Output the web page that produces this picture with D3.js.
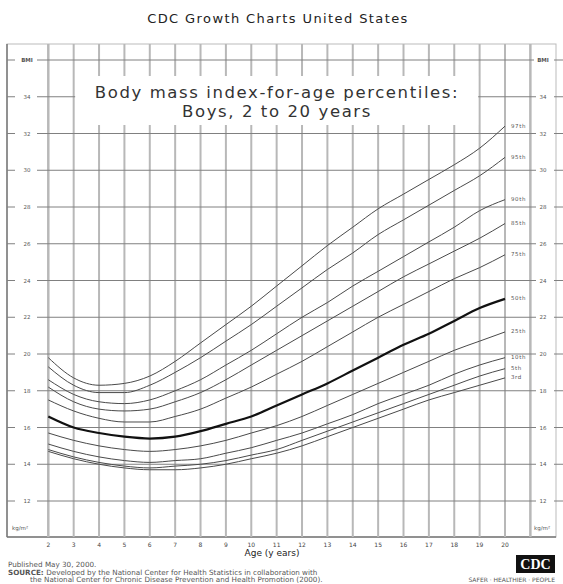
<!DOCTYPE html>
<html>
<head>
<meta charset="utf-8">
<script src="https://cdn.jsdelivr.net/npm/d3@7"></script>
<style>
  body { margin: 0; background: #fff; }
  svg { display: block; font-family: "DejaVu Sans", sans-serif; }
</style>
</head>
<body>
<div id="chart"></div>
<script>
// ages on the x axis (years)
const ages = [2, 3, 4, 5, 6, 7, 8, 9, 10, 11, 12, 13, 14, 15, 16, 17, 18, 19, 20];
const bmiTicks = [12, 14, 16, 18, 20, 22, 24, 26, 28, 30, 32, 34];

// BMI percentile curves, one value per age
const p3  = [14.7, 14.3, 14.0, 13.8, 13.7, 13.7, 13.8, 14.0, 14.3, 14.6, 15.0, 15.5, 16.0, 16.5, 17.0, 17.5, 17.9, 18.3, 18.7];
const p5  = [14.8, 14.4, 14.1, 13.9, 13.8, 13.9, 14.0, 14.2, 14.5, 14.8, 15.3, 15.8, 16.3, 16.8, 17.3, 17.8, 18.3, 18.8, 19.2];
const p10 = [15.1, 14.7, 14.4, 14.2, 14.1, 14.2, 14.3, 14.6, 14.9, 15.3, 15.7, 16.2, 16.7, 17.3, 17.8, 18.3, 18.9, 19.4, 19.8];
const p25 = [15.7, 15.3, 15.0, 14.8, 14.7, 14.8, 15.0, 15.3, 15.7, 16.1, 16.6, 17.2, 17.8, 18.4, 19.0, 19.6, 20.2, 20.7, 21.2];
const p50 = [16.6, 16.0, 15.7, 15.5, 15.4, 15.5, 15.8, 16.2, 16.6, 17.2, 17.8, 18.4, 19.1, 19.8, 20.5, 21.1, 21.8, 22.5, 23.0];
const p75 = [17.5, 16.9, 16.5, 16.3, 16.3, 16.6, 17.0, 17.6, 18.2, 18.9, 19.6, 20.4, 21.2, 22.0, 22.7, 23.4, 24.1, 24.7, 25.4];
const p85 = [18.2, 17.4, 17.0, 16.9, 17.0, 17.4, 17.9, 18.6, 19.4, 20.2, 21.0, 21.8, 22.6, 23.4, 24.2, 24.9, 25.6, 26.3, 27.1];
const p90 = [18.6, 17.8, 17.4, 17.3, 17.5, 18.0, 18.6, 19.4, 20.2, 21.1, 22.0, 22.8, 23.7, 24.5, 25.3, 26.1, 26.9, 27.8, 28.4];
const p95 = [19.3, 18.3, 17.9, 17.9, 18.3, 19.0, 19.8, 20.7, 21.6, 22.6, 23.6, 24.6, 25.5, 26.5, 27.3, 28.1, 28.9, 29.7, 30.7];
const p97 = [19.8, 18.7, 18.3, 18.4, 18.8, 19.6, 20.6, 21.6, 22.6, 23.7, 24.8, 25.9, 26.9, 27.9, 28.7, 29.5, 30.3, 31.2, 32.4];

const curves = [
  {name: '3rd', values: p3},
  {name: '5th', values: p5},
  {name: '10th', values: p10},
  {name: '25th', values: p25},
  {name: '50th', values: p50},
  {name: '75th', values: p75},
  {name: '85th', values: p85},
  {name: '90th', values: p90},
  {name: '95th', values: p95},
  {name: '97th', values: p97}
];

const W = 563, H = 584;
const frame = {left: 7, right: 556, top: 44, bottom: 537};

const svg = d3.select('#chart').append('svg')
  .attr('width', W)
  .attr('height', H);

const x = d3.scaleLinear().domain([2, 20]).range([48.3, 505]);
const y = d3.scaleLinear().domain([12, 36]).range([501, 60]);

// page title
svg.append('text')
  .attr('x', 278).attr('y', 23)
  .attr('text-anchor', 'middle')
  .attr('font-size', 13)
  .attr('letter-spacing', 1.4)
  .attr('fill', '#222')
  .text('CDC Growth Charts United States');

// outer frame
svg.append('rect')
  .attr('x', frame.left).attr('y', frame.top)
  .attr('width', frame.right - frame.left)
  .attr('height', frame.bottom - frame.top)
  .attr('fill', 'none')
  .attr('stroke', '#bbb')
  .attr('stroke-width', 1);
svg.append('line')
  .attr('x1', frame.left).attr('x2', frame.left)
  .attr('y1', frame.top).attr('y2', frame.bottom)
  .attr('stroke', '#777').attr('stroke-width', 1.5);
svg.append('line')
  .attr('x1', frame.left).attr('x2', frame.right)
  .attr('y1', frame.bottom).attr('y2', frame.bottom)
  .attr('stroke', '#777').attr('stroke-width', 1.5);

// vertical grid, one per year up to 21
const gridAges = d3.range(2, 22);
svg.append('g').selectAll('line')
  .data(gridAges)
  .enter().append('line')
  .attr('x1', d => x(d)).attr('x2', d => x(d))
  .attr('y1', frame.top).attr('y2', frame.bottom)
  .attr('stroke', '#b8b8b8')
  .attr('stroke-width', d => (d === 2 || d === 21) ? 2.5 : 2);

// horizontal grid
const bmiLines = bmiTicks.concat([36]);
svg.append('g').selectAll('line')
  .data(bmiLines)
  .enter().append('line')
  .attr('x1', 37).attr('x2', 537)
  .attr('y1', d => y(d)).attr('y2', d => y(d))
  .attr('stroke', '#808080')
  .attr('stroke-width', 1);

// outer ticks on both sides
const ticks = svg.append('g');
ticks.selectAll('.tl')
  .data(bmiLines)
  .enter().append('line')
  .attr('x1', frame.left).attr('x2', 15)
  .attr('y1', d => y(d)).attr('y2', d => y(d))
  .attr('stroke', '#808080');
ticks.selectAll('.tr')
  .data(bmiLines)
  .enter().append('line')
  .attr('x1', 554).attr('x2', 563)
  .attr('y1', d => y(d)).attr('y2', d => y(d))
  .attr('stroke', '#808080');

// white box behind chart title
svg.append('rect')
  .attr('x', x(3) + 1.5).attr('y', 76)
  .attr('width', x(19) - x(3) - 3)
  .attr('height', 49)
  .attr('fill', '#fff');

const titleBox = svg.append('g')
  .attr('text-anchor', 'middle')
  .attr('font-size', 16.5)
  .attr('letter-spacing', 1.6)
  .attr('fill', '#333');
titleBox.append('text')
  .attr('x', 277).attr('y', 98)
  .text('Body mass index-for-age percentiles:');
titleBox.append('text')
  .attr('x', 277).attr('y', 117)
  .text('Boys, 2 to 20 years');

// y axis labels, left and right
const yLabels = svg.append('g')
  .attr('font-size', 5.5)
  .attr('fill', '#555');
[27, 543].forEach(cx => {
  yLabels.selectAll(null)
    .data(bmiTicks)
    .enter().append('rect')
    .attr('x', cx - 7).attr('y', d => y(d) - 3)
    .attr('width', 14).attr('height', 6)
    .attr('fill', '#fff');
  yLabels.append('rect')
    .attr('x', cx - 9).attr('y', y(36) - 3)
    .attr('width', 18).attr('height', 6)
    .attr('fill', '#fff');
  yLabels.selectAll(null)
    .data(bmiTicks)
    .enter().append('text')
    .attr('x', cx).attr('y', d => y(d) + 2)
    .attr('text-anchor', 'middle')
    .text(d => d);
  yLabels.append('text')
    .attr('x', cx).attr('y', y(36) + 2)
    .attr('text-anchor', 'middle')
    .attr('font-weight', 'bold')
    .text('BMI');
});
yLabels.append('text')
  .attr('x', 12).attr('y', 530)
  .text('kg/m\u00b2');
yLabels.append('text')
  .attr('x', 534).attr('y', 530)
  .text('kg/m\u00b2');

// x axis labels
svg.append('g')
  .attr('font-size', 6)
  .attr('fill', '#444')
  .selectAll('text')
  .data(ages)
  .enter().append('text')
  .attr('x', d => x(d))
  .attr('y', 547)
  .attr('text-anchor', 'middle')
  .text(d => d);

svg.append('text')
  .attr('x', 272).attr('y', 556)
  .attr('text-anchor', 'middle')
  .attr('font-size', 9)
  .attr('fill', '#222')
  .text('Age (y ears)');

// percentile curves
const line = d3.line()
  .x((d, i) => x(ages[i]))
  .y(d => y(d))
  .curve(d3.curveMonotoneX);

svg.append('g').selectAll('path')
  .data(curves)
  .enter().append('path')
  .attr('d', d => line(d.values))
  .attr('fill', 'none')
  .attr('stroke', d => d.name === '50th' ? '#111' : '#4a4a4a')
  .attr('stroke-width', d => d.name === '50th' ? 2.2 : 1);

// curve labels at right end
svg.append('g')
  .attr('font-size', 5.5)
  .attr('letter-spacing', 0.6)
  .attr('fill', '#555')
  .selectAll('text')
  .data(curves)
  .enter().append('text')
  .attr('x', x(20) + 6)
  .attr('y', d => y(d.values[d.values.length - 1]) + 1.5)
  .text(d => d.name);

// footer
const foot = svg.append('g')
  .attr('font-size', 7.2)
  .attr('fill', '#555');
foot.append('text').attr('x', 8).attr('y', 567).text('Published May 30, 2000.');
const src = foot.append('text').attr('x', 8).attr('y', 574.5);
src.append('tspan').attr('font-weight', 'bold').text('SOURCE: ');
src.append('tspan').text('Developed by the National Center for Health Statistics in collaboration with');
foot.append('text').attr('x', 30).attr('y', 582)
  .text('the National Center for Chronic Disease Prevention and Health Promotion (2000).');
foot.append('text').attr('x', 555).attr('y', 582)
  .attr('text-anchor', 'end')
  .attr('font-size', 6)
  .text('SAFER \u00b7 HEALTHIER \u00b7 PEOPLE');

// CDC logo
svg.append('rect')
  .attr('x', 516).attr('y', 555)
  .attr('width', 39).attr('height', 18)
  .attr('fill', '#111');
svg.append('text')
  .attr('x', 535.5).attr('y', 569)
  .attr('text-anchor', 'middle')
  .attr('font-family', '"Liberation Serif", serif')
  .attr('font-weight', 'bold')
  .attr('font-size', 14)
  .attr('fill', '#fff')
  .text('CDC');
</script>
</body>
</html>
